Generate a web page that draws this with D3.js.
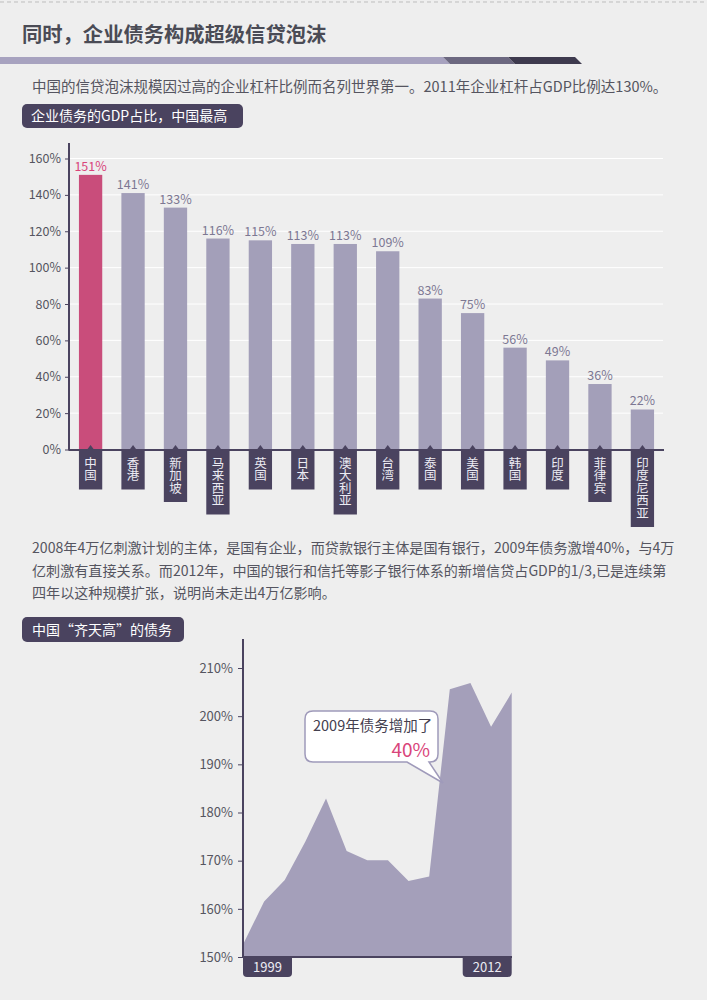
<!DOCTYPE html>
<html><head><meta charset="utf-8">
<script src="https://cdn.jsdelivr.net/npm/d3@7/dist/d3.min.js"></script>
<style>
html,body{margin:0;padding:0;background:#eeeeee;}
svg{display:block;}
text{font-family:"Noto Sans CJK SC","Noto Sans",sans-serif;}
</style></head>
<body>
<svg id="c" width="707" height="1000"></svg>
<script>
// ---------- data ----------
const title = "同时，企业债务构成超级信贷泡沫";
const subtitle = "中国的信贷泡沫规模因过高的企业杠杆比例而名列世界第一。2011年企业杠杆占GDP比例达130%。";
const barHeading = "企业债务的GDP占比，中国最高";
const categories = ["中国","香港","新加坡","马来西亚","英国","日本","澳大利亚","台湾","泰国","美国","韩国","印度","菲律宾","印度尼西亚"];
const values = [151,141,133,116,115,113,113,109,83,75,56,49,36,22];
const barTicks = [0,20,40,60,80,100,120,140,160];
const paragraph = [
  "2008年4万亿刺激计划的主体，是国有企业，而贷款银行主体是国有银行，2009年债务激增40%，与4万",
  "亿刺激有直接关系。而2012年，中国的银行和信托等影子银行体系的新增信贷占GDP的1/3,已是连续第",
  "四年以这种规模扩张，说明尚未走出4万亿影响。"
];
const areaHeading = "中国“齐天高”的债务";
const years = [1999,2000,2001,2002,2003,2004,2005,2006,2007,2008,2009,2010,2011,2012];
const debt = [152.8,161.5,166.0,174.0,182.9,172.0,170.1,170.1,165.8,166.7,205.6,206.9,197.8,204.9];
const debtTicks = [150,160,170,180,190,200,210];
const yearLabels = [1999,2012];
const callout = {line1:"2009年债务增加了", line2:"40%"};

// ---------- style ----------
const DARK = "#4a435f", LAV = "#a39fb9", PINK = "#c94d7b", TXT = "#555560";
const svg = d3.select("#c");

// background
svg.append("rect").attr("width",707).attr("height",1000).attr("fill","#eeeeee");
svg.append("line").attr("x1",0).attr("x2",707).attr("y1",2).attr("y2",2)
  .attr("stroke","#bdbdbd").attr("stroke-width",1).attr("stroke-dasharray","4 3");

// title
svg.append("text").attr("x",22).attr("y",42).attr("font-size",20.3).attr("font-weight","bold")
  .attr("fill","#4a4b55").text(title);
// stripe
svg.append("polygon").attr("points","0,57 443,57 450,64 0,64").attr("fill","#a7a2bf");
svg.append("polygon").attr("points","443,57 508,57 515,64 450,64").attr("fill","#6c6880");
svg.append("polygon").attr("points","508,57 575,57 582,64 515,64").attr("fill","#3e3a4e");

svg.append("text").attr("x",32).attr("y",92).attr("font-size",14.5).attr("fill",TXT).text(subtitle);

// heading box 1
svg.append("rect").attr("x",22).attr("y",104).attr("width",221).attr("height",24).attr("rx",5).attr("fill",DARK);
svg.append("text").attr("x",31).attr("y",121).attr("font-size",14).attr("fill","#fff").text(barHeading);

// ---------- bar chart ----------
const bx = d3.scaleBand().domain(categories).range([69,664]).paddingInner(0.451).paddingOuter(0.234);
const by = d3.scaleLinear().domain([0,160]).range([449.5,158.5]);

const g1 = svg.append("g");
// gridlines
g1.selectAll(".grid").data(barTicks.filter(d=>d>0)).enter().append("line")
  .attr("x1",69).attr("x2",663).attr("y1",d=>by(d)).attr("y2",d=>by(d))
  .attr("stroke","#ffffff").attr("stroke-width",1);

// y axis
const yAx = d3.axisLeft(by).tickValues(barTicks).tickFormat(d=>d+"%").tickSize(4).tickPadding(4);
const ya = g1.append("g").attr("transform","translate(69,0)").call(yAx);
ya.select(".domain").remove();
ya.selectAll(".tick line").attr("stroke",DARK);
ya.selectAll(".tick text").attr("font-size",12.5).attr("fill",TXT).attr("font-family","'Open Sans','Noto Sans',sans-serif");
g1.append("line").attr("x1",69).attr("x2",69).attr("y1",143).attr("y2",450.5).attr("stroke",DARK).attr("stroke-width",2);

// bars
g1.selectAll(".bar").data(values).enter().append("rect")
  .attr("x",(d,i)=>bx(categories[i])).attr("width",bx.bandwidth())
  .attr("y",d=>by(d)).attr("height",d=>by(0)-by(d))
  .attr("fill",(d,i)=>i===0?PINK:LAV);
// value labels
g1.selectAll(".vl").data(values).enter().append("text")
  .attr("x",(d,i)=>bx(categories[i])+bx.bandwidth()/2).attr("y",d=>by(d)-4)
  .attr("text-anchor","middle").attr("font-size",12.5)
  .attr("font-family","'Open Sans','Noto Sans',sans-serif")
  .attr("fill",(d,i)=>i===0?"#d9457a":"#7d7893").text(d=>d+"%");

// x axis line
g1.append("line").attr("x1",69).attr("x2",664).attr("y1",450).attr("y2",450).attr("stroke",DARK).attr("stroke-width",2);

// category label boxes (vertical text)
categories.forEach((c,i)=>{
  const x = bx(c), w = bx.bandwidth(), cx = x+w/2;
  const n = Array.from(c).length;
  const h = 14.5 + n*12.5;
  g1.append("rect").attr("x",x).attr("y",450).attr("width",w).attr("height",h).attr("fill",DARK);
  g1.append("polygon").attr("points",`${cx-4.5},451 ${cx},445 ${cx+4.5},451`).attr("fill",DARK);
  g1.append("text").attr("x",cx).attr("y",456.5)
    .style("writing-mode","vertical-rl")
    .attr("font-size",12.5).attr("fill","#ecebf3").text(c);
});

// paragraph
paragraph.forEach((line,i)=>{
  svg.append("text").attr("x",32).attr("y",553+i*22.5).attr("font-size",14.1).attr("fill",TXT).text(line);
});

// heading box 2
svg.append("rect").attr("x",22).attr("y",617).attr("width",162).attr("height",25).attr("rx",5).attr("fill",DARK);
svg.append("text").attr("x",32).attr("y",634.5).attr("font-size",14).attr("fill","#fff").text(areaHeading);

// ---------- area chart ----------
const ax = d3.scaleLinear().domain([1999,2012]).range([243.5,511.7]);
const ay = d3.scaleLinear().domain([150,210]).range([957,668]);
const g2 = svg.append("g");
const area = d3.area().x((d,i)=>ax(years[i])).y0(ay(150)).y1(d=>ay(d));
g2.append("path").datum(debt).attr("d",area).attr("fill","#a49fba");

const ayAx = d3.axisLeft(ay).tickValues(debtTicks).tickFormat(d=>d+"%").tickSize(5).tickPadding(5);
const aya = g2.append("g").attr("transform","translate(243,0)").call(ayAx);
aya.select(".domain").remove();
aya.selectAll(".tick line").attr("stroke",DARK);
aya.selectAll(".tick text").attr("font-size",13).attr("fill",TXT).attr("font-family","'Open Sans','Noto Sans',sans-serif");
g2.append("line").attr("x1",243).attr("x2",243).attr("y1",639).attr("y2",958).attr("stroke",DARK).attr("stroke-width",2);
g2.append("line").attr("x1",242).attr("x2",512).attr("y1",957).attr("y2",957).attr("stroke",DARK).attr("stroke-width",2);

// year label boxes
function bottomRounded(x,y,w,h,r){
  return `M${x},${y}H${x+w}V${y+h-r}Q${x+w},${y+h} ${x+w-r},${y+h}H${x+r}Q${x},${y+h} ${x},${y+h-r}Z`;
}
yearLabels.forEach(yr=>{
  const w = 49;
  const x = yr===1999 ? ax(yr)-0.5 : ax(yr)-w;
  g2.append("path").attr("d",bottomRounded(x,957,w,20,4)).attr("fill",DARK);
  g2.append("text").attr("x",x+w/2).attr("y",972).attr("text-anchor","middle")
    .attr("font-size",13).attr("fill","#ecebf3").attr("font-family","'Open Sans','Noto Sans',sans-serif").text(yr);
});

// callout
const cg = g2.append("g");
cg.append("path")
  .attr("d","M313,711 H430 Q438,711 438,719 V754 Q438,762 430,762 H429 L443,783 L407,762 H313 Q305,762 305,754 V719 Q305,711 313,711 Z")
  .attr("fill","#ffffff").attr("stroke","#9f9aba").attr("stroke-width",1.5);
cg.append("text").attr("x",313).attr("y",730.5).attr("font-size",14.5).attr("fill","#44404f").text(callout.line1);
cg.append("text").attr("x",430).attr("y",757).attr("text-anchor","end").attr("font-size",19)
  .attr("font-family","'Open Sans','Noto Sans',sans-serif").attr("fill","#d9457a").text(callout.line2);
</script>
</body></html>
